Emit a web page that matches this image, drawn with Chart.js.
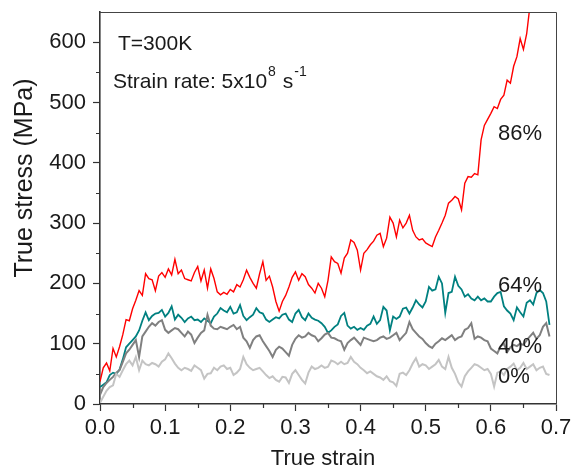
<!DOCTYPE html>
<html>
<head>
<meta charset="utf-8">
<script src="https://cdn.jsdelivr.net/npm/chart.js@4.4.1/dist/chart.umd.min.js"></script>
<style>
  html, body { margin: 0; padding: 0; background: #ffffff; }
  canvas { display: block; }
</style>
</head>
<body>
<canvas id="c" width="571" height="468"></canvas>
<script>
// Strain is sampled every 0.005 from 0.
const STRAIN_STEP = 0.005;

// True stress (MPa) for each composition.
const stress86 = [
  37, 60, 68, 55, 92, 78, 95, 115, 140, 138,
  158, 172, 188, 180, 216, 208, 206, 188, 212, 218,
  210, 224, 214, 240, 216, 222, 208, 206, 204, 218,
  228, 204, 222, 192, 224, 208, 186, 181, 185, 182,
  190, 186, 198, 194, 206, 222, 210, 200, 192, 216,
  236, 205, 212, 194, 170, 154, 170, 180, 194, 210,
  219, 205, 216, 211, 198, 192, 184, 200, 192, 178,
  205, 244, 236, 233, 217, 242, 250, 272, 268, 255,
  222, 250, 256, 264, 270, 280, 283, 261, 275, 310,
  300, 277, 305, 292, 300, 313, 288, 277, 272, 274,
  267, 264, 261, 277, 288, 300, 313, 333, 338, 344,
  340, 322, 366, 377, 376, 382, 380, 438, 462, 472,
  482, 493, 490, 505, 512, 537, 532, 560, 576, 606,
  588, 614, 660, 720
];
const stress64 = [
  28, 32, 36, 48, 52, 50, 57, 74, 94, 100,
  106, 112, 122, 138, 152, 139, 146, 150, 151, 156,
  145, 151, 162, 140, 148, 143, 136, 142, 145, 139,
  140, 136, 142, 138, 134, 145, 150, 159, 155, 152,
  161, 150, 152, 164, 146, 139, 144, 148, 159, 152,
  150, 140, 136, 140, 144, 142, 148, 150, 140, 136,
  150, 156, 144, 139, 150, 143, 140, 138, 134, 128,
  118, 122, 128, 132, 146, 151, 130, 125, 128, 123,
  126, 123, 130, 133, 145, 133, 139, 161, 155, 122,
  145, 141, 145, 158, 160, 150, 160, 172, 165, 160,
  170, 194, 188, 190, 211, 200, 151, 184, 186, 211,
  196, 190, 178, 182, 175, 172, 178, 172, 175, 170,
  170, 178, 184, 186, 162, 155, 150, 139, 160, 152,
  145, 168, 172, 165, 184, 189, 184, 170, 131
];
const stress40 = [
  15, 28, 35, 40, 45, 52, 56, 70, 84, 90,
  98, 106, 78, 112, 120, 128, 134, 130, 136, 139,
  123, 118, 122, 126, 124, 118, 112, 120, 115, 101,
  110, 118, 122, 148, 130, 125, 124, 128, 126, 124,
  128, 131, 124, 128, 110, 104, 93, 106, 112, 114,
  104, 96, 88, 78, 90, 95, 92, 86, 80, 98,
  108, 114, 110, 112, 118, 114, 112, 104, 109, 115,
  118, 110, 109, 106, 104, 90, 101, 106, 110, 104,
  98, 110, 108, 106, 104, 106, 110, 112, 108, 110,
  114, 118, 106, 112, 118, 136, 124, 118, 112, 108,
  101, 96, 93, 100, 104, 109, 106, 110, 114, 106,
  110, 112, 123, 126, 134, 108, 112, 110, 106, 104,
  92, 88, 84, 96, 100, 86, 94, 98, 96, 100,
  98, 106, 112, 118, 108, 114, 128, 134, 112
];
const stress0 = [
  2, 12, 22, 28, 31, 50, 45, 56, 66, 72,
  64, 78, 56, 72, 66, 64, 68, 66, 62, 70,
  74, 84, 76, 67, 60, 56, 60, 58, 55, 64,
  60, 56, 42, 50, 51, 60, 56, 62, 64, 58,
  60, 48, 52, 58, 78, 66, 60, 56, 58, 60,
  54, 48, 43, 46, 40, 37, 45, 44, 35, 50,
  56, 48, 40, 34, 52, 62, 58, 60, 64, 60,
  62, 72, 70, 66, 70, 66, 68, 78, 70, 66,
  60, 56, 51, 54, 50, 46, 44, 40, 46, 38,
  36, 30, 50, 52, 48, 56, 67, 76, 62, 66,
  64, 58, 62, 66, 73, 62, 58, 78, 60, 50,
  36, 29, 46, 54, 60, 66, 64, 60, 56, 58,
  50, 29, 52, 54, 48, 58, 62, 67, 56, 60,
  68, 58, 62, 66, 56, 60, 62, 50, 48
];

// Axis ticks
const xTicks = [0, 0.1, 0.2, 0.3, 0.4, 0.5, 0.6, 0.7];
const xMinor = [0.05, 0.15, 0.25, 0.35, 0.45, 0.55, 0.65];
const yTicks = [0, 100, 200, 300, 400, 500, 600];
const yMinor = [50, 150, 250, 350, 450, 550];

// Curve labels, anchored in data space (left edge, baseline)
const curveLabels = [
  { text: '86%', x: 0.611, y: 438 },
  { text: '64%', x: 0.611, y: 186 },
  { text: '40%', x: 0.611, y: 85 },
  { text: '0%',  x: 0.611, y: 35 }
];

const FONT = '"Liberation Sans", Arial, Helvetica, sans-serif';
const INK = '#1a1a1a';

function toPoints(values) {
  return values.map((v, i) => ({ x: +(i * STRAIN_STEP).toFixed(3), y: v }));
}

const framePlugin = {
  id: 'frame',
  afterDraw(chart) {
    const { ctx, chartArea: a, scales } = chart;
    const xs = scales.x, ys = scales.y;
    ctx.save();

    // top and right frame
    ctx.strokeStyle = '#444';
    ctx.lineWidth = 1;
    ctx.beginPath();
    ctx.moveTo(a.left, a.top + 0.5);
    ctx.lineTo(a.right + 0.5, a.top + 0.5);
    ctx.lineTo(a.right + 0.5, a.bottom);
    ctx.stroke();

    // minor ticks
    ctx.strokeStyle = '#333';
    ctx.lineWidth = 1.2;
    ctx.beginPath();
    xMinor.forEach(v => {
      const px = Math.round(xs.getPixelForValue(v)) + 0.5;
      ctx.moveTo(px, a.bottom);
      ctx.lineTo(px, a.bottom + 4);
    });
    yMinor.forEach(v => {
      const py = Math.round(ys.getPixelForValue(v)) + 0.5;
      ctx.moveTo(a.left, py);
      ctx.lineTo(a.left - 4, py);
    });
    ctx.stroke();

    // curve labels
    ctx.fillStyle = INK;
    ctx.textAlign = 'left';
    ctx.textBaseline = 'alphabetic';
    ctx.font = '22px ' + FONT;
    curveLabels.forEach(l => {
      ctx.fillText(l.text, xs.getPixelForValue(l.x), ys.getPixelForValue(l.y));
    });

    // conditions
    ctx.font = '21px ' + FONT;
    ctx.fillText('T=300K', a.left + 18, a.top + 38);
    let tx = a.left + 13;
    const ty = a.top + 76;
    const main = 'Strain rate: 5x10';
    ctx.fillText(main, tx, ty);
    tx += ctx.measureText(main).width + 1;
    ctx.font = '14px ' + FONT;
    ctx.fillText('8', tx, ty - 12);
    tx += ctx.measureText('8').width + 7;
    ctx.font = '21px ' + FONT;
    ctx.fillText('s', tx, ty);
    tx += ctx.measureText('s').width + 1;
    ctx.font = '14px ' + FONT;
    ctx.fillText('-1', tx, ty - 12);

    // axis titles
    ctx.font = '22px ' + FONT;
    ctx.textAlign = 'center';
    ctx.fillText('True strain', (a.left + a.right) / 2 - 5, 465);

    ctx.save();
    ctx.translate(32, 178);
    ctx.rotate(-Math.PI / 2);
    ctx.font = '25px ' + FONT;
    ctx.textAlign = 'center';
    ctx.fillText('True stress (MPa)', 0, 0);
    ctx.restore();

    ctx.restore();
  }
};

new Chart(document.getElementById('c'), {
  type: 'line',
  data: {
    datasets: [
      { label: '0%',  data: toPoints(stress0),  borderColor: '#c4c4c4', borderWidth: 2 },
      { label: '40%', data: toPoints(stress40), borderColor: '#808080', borderWidth: 2 },
      { label: '64%', data: toPoints(stress64), borderColor: '#008080', borderWidth: 1.8 },
      { label: '86%', data: toPoints(stress86), borderColor: '#ff0000', borderWidth: 1.4 }
    ]
  },
  options: {
    responsive: false,
    devicePixelRatio: 1,
    animation: false,
    elements: {
      point: { radius: 0 },
      line: { tension: 0, borderJoinStyle: 'miter', fill: false }
    },
    layout: { padding: { top: 12, right: 15, left: 0, bottom: 0 } },
    plugins: {
      legend: { display: false },
      tooltip: { enabled: false }
    },
    scales: {
      x: {
        type: 'linear',
        min: 0,
        max: 0.7,
        afterBuildTicks: s => { s.ticks = xTicks.map(v => ({ value: v })); },
        afterFit: s => { s.height = 64; s.paddingLeft = 0; s.paddingRight = 0; },
        ticks: {
          callback: v => v.toFixed(1),
          font: { family: FONT, size: 22 },
          color: INK,
          padding: 4,
          maxRotation: 0,
          autoSkip: false
        },
        grid: { drawOnChartArea: false, tickLength: 7, color: '#333', tickWidth: 1.2 },
        border: { color: '#333', width: 1.6 }
      },
      y: {
        type: 'linear',
        min: 0,
        max: 650,
        afterBuildTicks: s => { s.ticks = yTicks.map(v => ({ value: v })); },
        afterFit: s => { s.width = 100; s.paddingTop = 0; s.paddingBottom = 0; },
        ticks: {
          font: { family: FONT, size: 22 },
          color: INK,
          padding: 7
        },
        grid: { drawOnChartArea: false, tickLength: 7, color: '#333', tickWidth: 1.2 },
        border: { color: '#333', width: 1.6 }
      }
    }
  },
  plugins: [framePlugin]
});
</script>
</body>
</html>
